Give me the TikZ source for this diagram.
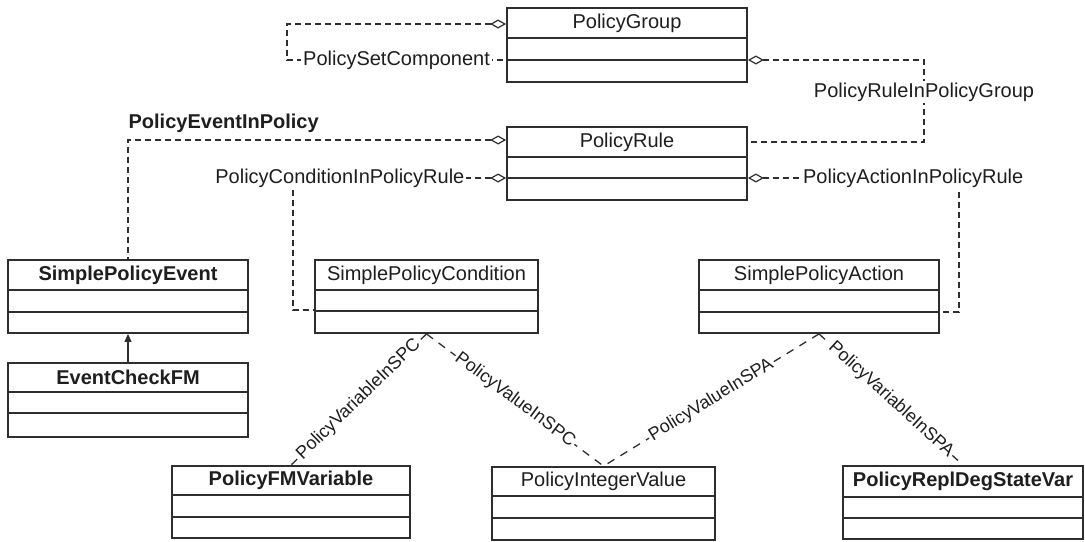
\documentclass[tikz,border=0pt]{standalone}
\usepackage{fontspec}
\setmainfont{Liberation Sans}
\usetikzlibrary{arrows.meta,fit}
\definecolor{ink}{HTML}{2E2E2E}
\definecolor{txt}{HTML}{1E1E1E}
\tikzset{
  boxframe/.style={draw=ink, line width=0.9pt, inner sep=0pt, rectangle},
  boxrule/.style={draw=ink, line width=0.8pt},
  boxtitle/.style={text=txt, inner sep=0pt, font=\fontsize{10}{12}\selectfont},
  boldtitle/.style={font=\fontsize{10}{12}\selectfont\bfseries},
  assoc/.style={draw=ink, line width=0.6pt, dash pattern=on 3pt off 2pt},
  agg/.style={{Diamond[open,length=8pt,width=4.5pt,line width=0.6pt]}-},
  nav/.style={draw=ink, line width=0.65pt, dash pattern=on 4pt off 3.5pt},
  lbl/.style={text=txt, fill=white, inner sep=1pt, font=\fontsize{10}{12}\selectfont},
  slbl/.style={text=txt, fill=white, inner sep=0.8pt, font=\fontsize{9}{11}\selectfont},
  inherit/.style={draw=ink, line width=0.6pt, -{Triangle[length=4pt,width=3.5pt]}},
}
% class box: name, left, top, right, rule1, rule2, bottom, title style, title
\newcommand{\umlbox}[9]{%
  \node[boxframe, fit={(#2,#3) (#4,#7)}] (#1) {};
  \draw[boxrule] (#2,#5) -- (#4,#5) (#2,#6) -- (#4,#6);
  \node[boxtitle, #8] (#1-t) at ({(#2+#4)/2},{(#3+#5)/2}) {#9};
}
\begin{document}
\begin{tikzpicture}[x=0.5pt, y=-0.5pt]
  \fill[white] (0,0) rectangle (1085,541);
  \useasboundingbox (0,0) rectangle (1085,541);

  % classes
  \umlbox{pg}{507}{8}{747}{38}{60}{82}{}{PolicyGroup}
  \umlbox{pr}{507}{127}{747}{157}{178}{200}{}{PolicyRule}
  \umlbox{spe}{8}{260}{248}{290}{312}{333}{boldtitle}{SimplePolicyEvent}
  \umlbox{spc}{315}{260}{538}{290}{311}{333}{}{SimplePolicyCondition}
  \umlbox{spa}{699}{260}{939}{290}{312}{333}{}{SimplePolicyAction}
  \umlbox{ecf}{8}{363}{248}{392}{413}{437}{boldtitle}{EventCheckFM}
  \umlbox{pfv}{172}{466}{410}{495}{517}{538}{boldtitle}{PolicyFMVariable}
  \umlbox{piv}{492}{467}{715}{496}{518}{540}{}{PolicyIntegerValue}
  \umlbox{prd}{843}{466}{1083}{497}{518}{539}{boldtitle}{PolicyReplDegStateVar}

  % aggregations
  \draw[assoc, agg] (pg.west |- 0,24) -- (287,24) -- (287,60)
    -- node[lbl] (psc) {PolicySetComponent} (pg.west |- 0,60);
  \draw[assoc, agg] (pg.east |- 0,60) -- (924,60)
    -- node[lbl, pos=0.39] (prpg) {PolicyRuleInPolicyGroup} (924,142) -- (pr.east |- 0,142);
  \draw[assoc, agg] (pr.west |- 0,140)
    -- node[pos=0.747, above, inner sep=3.5pt, text=txt, boldtitle] (pep) {PolicyEventInPolicy} (spe.north |- 0,140)
    -- (spe.north);
  \draw[assoc, agg] (pr.west |- 0,178)
    -- node[lbl, pos=0.78] (pcpr) {PolicyConditionInPolicyRule} (293,178)
    -- (293,310) -- (spc.west |- 0,310);
  \draw[assoc, agg] (pr.east |- 0,178)
    -- node[lbl, pos=0.783] (papr) {PolicyActionInPolicyRule} (959,178)
    -- (959,312) -- (spa.east |- 0,312);

  % inheritance
  \draw[inherit] (ecf.north) -- (spe.south);

  % value and variable links
  \draw[nav] (spc.south) -- node[slbl, sloped] (pvspc) {PolicyVariableInSPC} (pfv.north);
  \draw[nav] (spc.south) -- node[slbl, sloped] (pvalspc) {PolicyValueInSPC} (piv.north);
  \draw[nav] (spa.south) -- node[slbl, sloped] (pvalspa) {PolicyValueInSPA} (piv.north);
  \draw[nav] (spa.south) -- node[slbl, sloped] (pvspa) {PolicyVariableInSPA} (prd.north);
\end{tikzpicture}
\end{document}
